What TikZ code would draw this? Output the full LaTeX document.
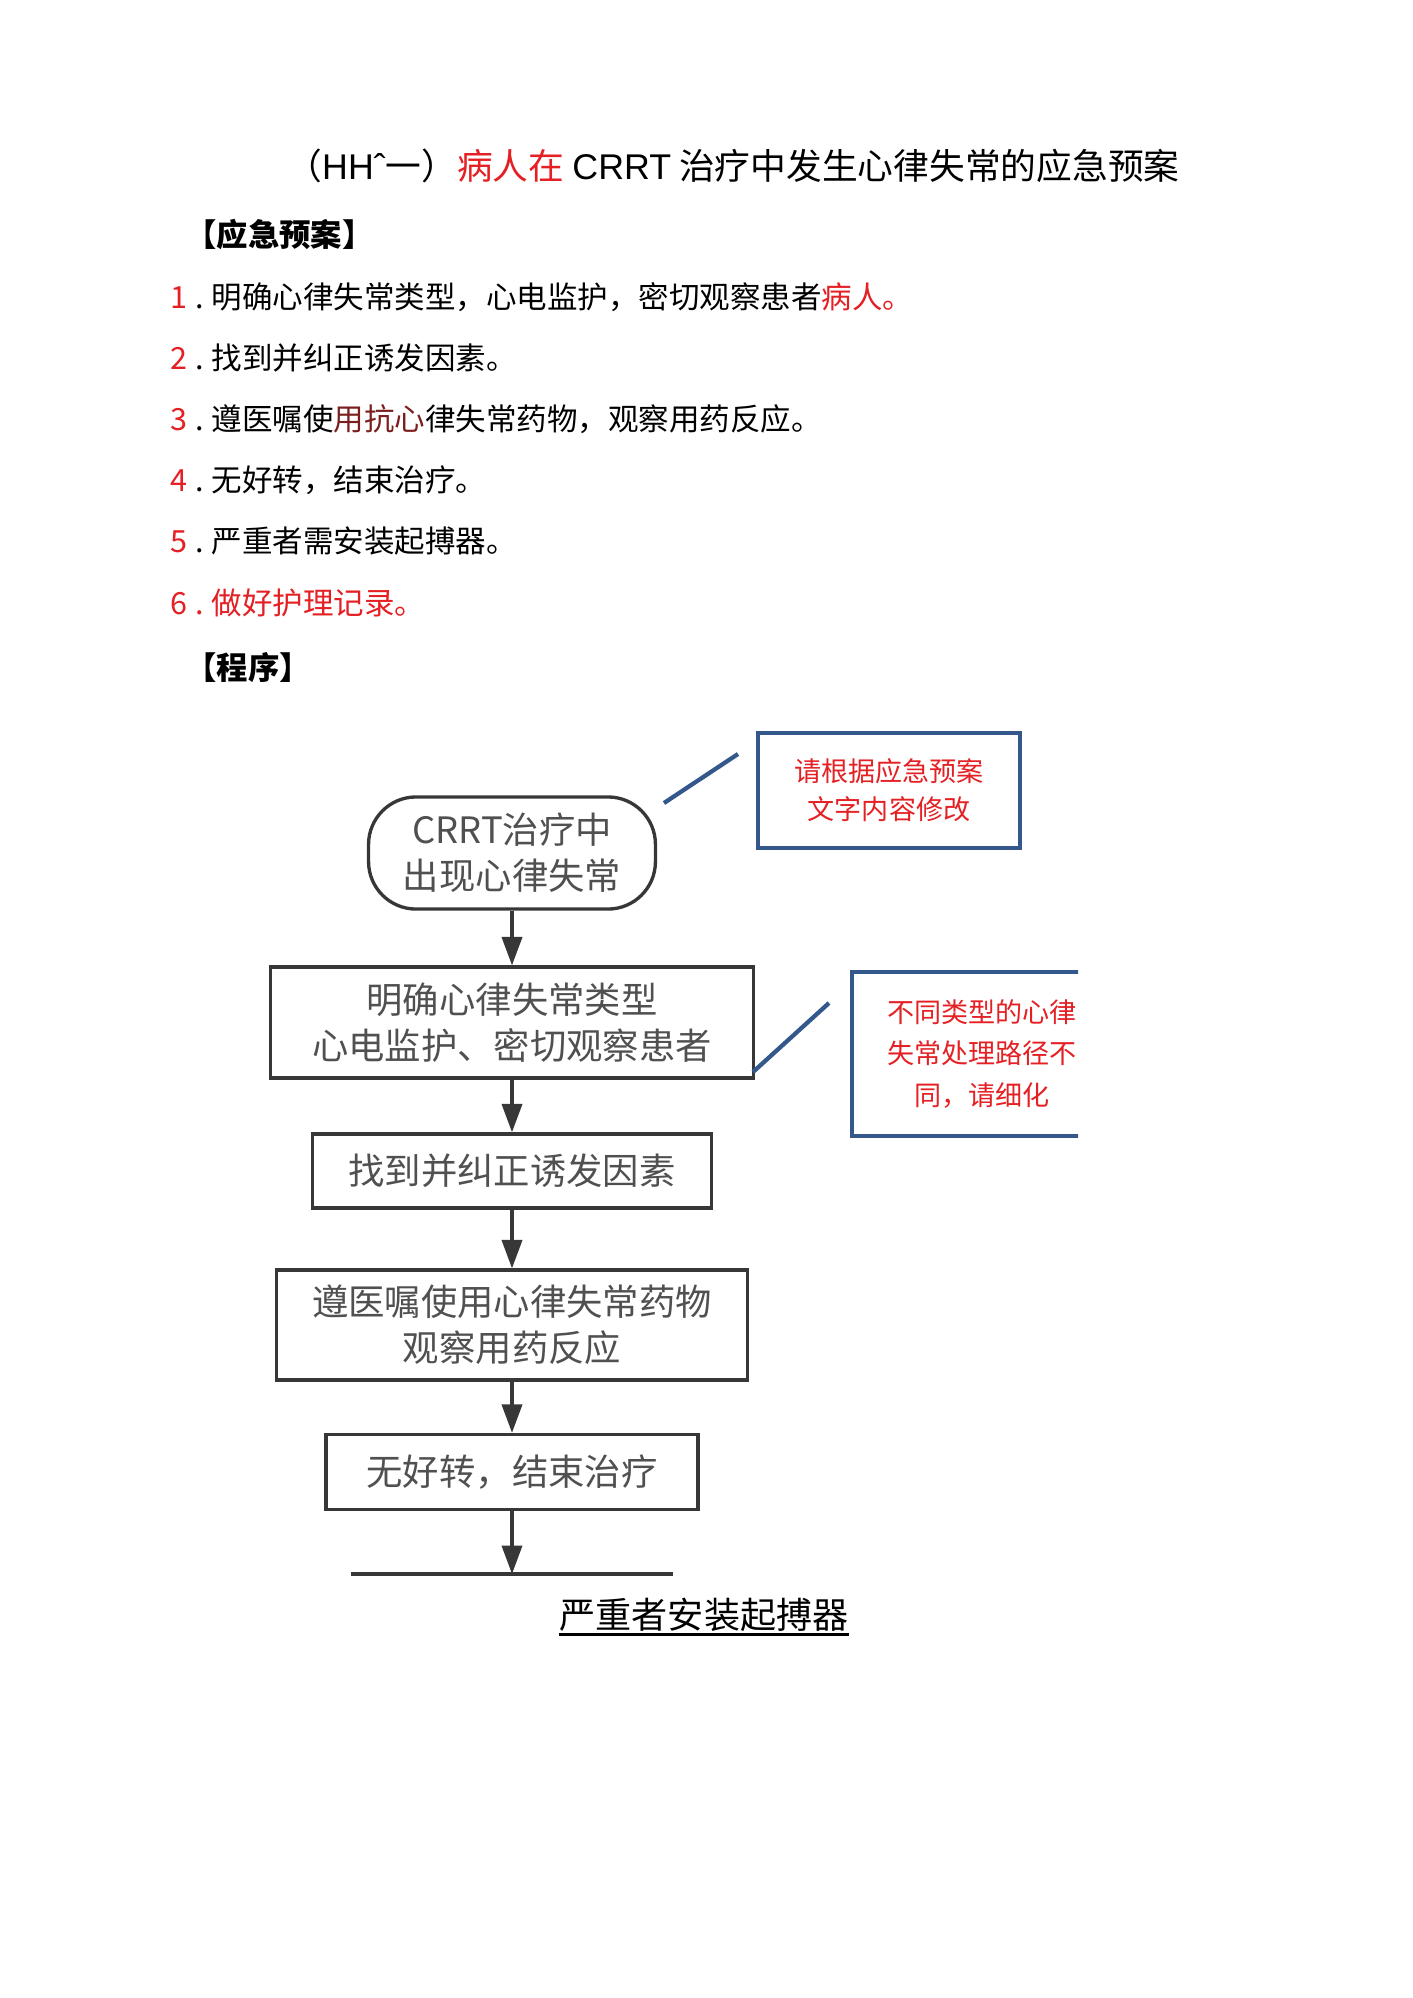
\documentclass[tikz,border=0pt]{standalone}
\usepackage{fontspec}
\setmainfont{Noto Sans CJK SC}
\newfontfamily\arialfont{Liberation Sans}
\usepackage{tikz}
\usetikzlibrary{arrows.meta}
\usepackage{xcolor}
\definecolor{listred}{RGB}{228,32,36}
\definecolor{darkred}{RGB}{122,30,30}
\definecolor{boxgray}{RGB}{55,55,55}
\definecolor{txtgray}{RGB}{80,80,80}
\definecolor{cmtblue}{RGB}{52,88,140}

\begin{document}
\begin{tikzpicture}[x=0.42105pt,y=-0.42105pt,
  stepbox/.style={draw=boxgray,line width=1.4pt,text=txtgray,align=center,
    font=\fontsize{15.3}{19.5}\selectfont,inner sep=0pt},
  notebox/.style={draw=cmtblue,line width=1.8pt,text=listred,align=center,
    inner sep=0pt,font=\fontsize{11.4}{16}\selectfont},
  flow/.style={draw=boxgray,line width=1.4pt,-{Triangle[length=12pt,width=8.5pt]}},
  callout/.style={draw=cmtblue,line width=1.8pt},
  listitem/.style={anchor=west,inner sep=0pt,font=\fontsize{12.85}{15}\selectfont},
  heading/.style={anchor=west,inner sep=0pt,font=\fontsize{13.2}{15}\selectfont\bfseries}]
\useasboundingbox (0,0) rectangle (1413,1998);

% title
\node[anchor=west,inner sep=0pt,font=\fontsize{15.05}{17}\selectfont] (title) at (286,166)
  {（{\arialfont HHˆ}一）\textcolor{listred}{病人在} {\arialfont CRRT} 治疗中发生心律失常的应急预案};

% plan
\node[heading] (plan) at (185,235) {【应急预案】};
\node[listitem] (item1) at (170,297) {\makebox[17.3pt][l]{\textcolor{listred}{1}\hspace{3.5pt}.}明确心律失常类型，心电监护，密切观察患者\textcolor{listred}{病人。}};
\node[listitem] (item2) at (170,358) {\makebox[17.3pt][l]{\textcolor{listred}{2}\hspace{3.5pt}.}找到并纠正诱发因素。};
\node[listitem] (item3) at (170,419) {\makebox[17.3pt][l]{\textcolor{listred}{3}\hspace{3.5pt}.}遵医嘱使\textcolor{darkred}{用抗心}律失常药物，观察用药反应。};
\node[listitem] (item4) at (170,480) {\makebox[17.3pt][l]{\textcolor{listred}{4}\hspace{3.5pt}.}无好转，结束治疗。};
\node[listitem] (item5) at (170,541) {\makebox[17.3pt][l]{\textcolor{listred}{5}\hspace{3.5pt}.}严重者需安装起搏器。};
\node[listitem,text=listred] (item6) at (170,603) {\makebox[17.3pt][l]{6\hspace{3.5pt}.}做好护理记录。};
\node[heading] (proc) at (185,667) {【程序】};

% flow chart
\node[stepbox,rounded corners=20pt,minimum width=120.8pt,minimum height=47.2pt] (start) at (512,853) {CRRT治疗中\\出现心律失常};
\node[stepbox,minimum width=203.4pt,minimum height=46.7pt] (ecg) at (512,1022.5) {明确心律失常类型\\心电监护、密切观察患者};
\node[stepbox,minimum width=168pt,minimum height=31.2pt] (cause) at (512,1171) {找到并纠正诱发因素};
\node[stepbox,minimum width=198.3pt,minimum height=46.3pt] (drug) at (512,1325) {遵医嘱使用心律失常药物\\观察用药反应};
\node[stepbox,minimum width=156.6pt,minimum height=31.6pt] (stop) at (512,1472) {无好转，结束治疗};
\coordinate (cutl) at (351,1574);
\coordinate (cutm) at (512,1574);
\coordinate (cutr) at (673,1574);
\draw[draw=boxgray,line width=1.4pt] (cutl) -- (cutr);

\draw[flow] (start) -- (ecg);
\draw[flow] (ecg) -- (cause);
\draw[flow] (cause) -- (drug);
\draw[flow] (drug) -- (stop);
\draw[flow] (stop) -- (cutm);

\node[inner sep=0pt,font=\fontsize{15.2}{18}\selectfont] (pace) at (704,1615) {严重者安装起搏器};
\draw[line width=1.1pt] ([yshift=-1pt]pace.south west) -- ([yshift=-1pt]pace.south east);

% comments
\node[notebox,minimum width=110.3pt,minimum height=48.4pt] (note1) at (889,790.5) {请根据应急预案\\文字内容修改};
\coordinate (n1a) at (664,803);
\coordinate (n1b) at (738,754);
\draw[callout] (n1a) -- (n1b);

\begin{scope}
\clip (0,0) rectangle (1078,1998);
\node[notebox,font=\fontsize{11.4}{17.5}\selectfont,minimum width=109.5pt,minimum height=69pt] (note2) at (982,1054) {不同类型的心律\\失常处理路径不\\同，请细化};
\end{scope}
\coordinate (n2a) at (753,1072);
\coordinate (n2b) at (829,1003);
\draw[callout] (n2a) -- (n2b);
\end{tikzpicture}
\end{document}
